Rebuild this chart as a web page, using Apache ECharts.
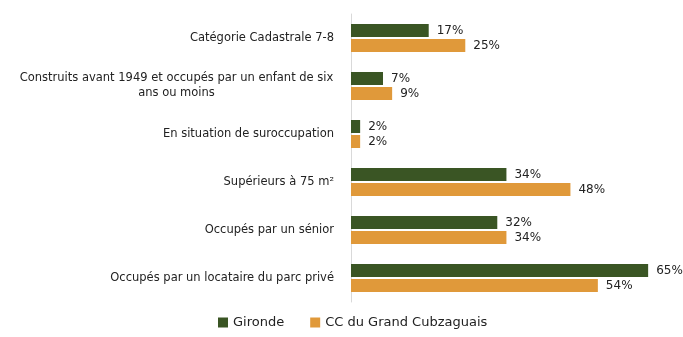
<!DOCTYPE html>
<html>
<head>
<meta charset="utf-8">
<script src="https://cdn.jsdelivr.net/npm/echarts@6/dist/echarts.min.js"></script>
<style>
  html, body { margin: 0; padding: 0; background: #fff; }
  #chart { width: 683px; height: 337px; }
</style>
</head>
<body>
<div id="chart"></div>
<script>
// Categories, top to bottom
const categories = [
  "Catégorie Cadastrale 7-8",
  "Construits avant 1949 et occupés par un enfant de six\nans ou moins",
  "En situation de suroccupation",
  "Supérieurs à 75 m²",
  "Occupés par un sénior",
  "Occupés par un locataire du parc privé"
];
const seriesNames = ["Gironde", "CC du Grand Cubzaguais"];
const gironde = [17, 7, 2, 34, 32, 65];
const cubzaguais = [25, 9, 2, 48, 34, 54];

const FONT = "'DejaVu Sans', sans-serif";

const chart = echarts.init(document.getElementById('chart'));
const labelStyle = {
  show: true,
  position: 'right',
  distance: 8,
  color: '#222',
  fontFamily: FONT,
  fontSize: 12,
  formatter: p => p.value + '%'
};

// Wrapped category names: lines centred on each other, block right-aligned
const wrapLabel = v => v.indexOf('\n') < 0 ? v
  : v.split('\n').map(l => '{c|' + l + '}').join('\n');

chart.setOption({
  animation: false,
  grid: { left: 351, right: 12, top: 14, bottom: 35, containLabel: false },
  legend: {
    bottom: 3,
    left: 213,
    itemWidth: 10,
    itemHeight: 10,
    itemGap: 26,
    icon: 'rect',
    textStyle: { fontFamily: FONT, fontSize: 13, color: '#222' },
    data: seriesNames
  },
  xAxis: {
    type: 'value',
    min: 0,
    max: 70,
    show: false
  },
  yAxis: {
    type: 'category',
    data: categories,
    inverse: true,
    axisLine: { show: true, lineStyle: { color: '#d9d9d9', width: 1 } },
    axisTick: { show: false },
    axisLabel: {
      margin: 17,
      color: '#222',
      fontFamily: FONT,
      fontSize: 11.5,
      lineHeight: 15,
      align: 'right',
      formatter: wrapLabel,
      rich: {
        c: {
          width: 315,
          align: 'center',
          color: '#222',
          fontFamily: FONT,
          fontSize: 11.5,
          lineHeight: 15
        }
      }
    }
  },
  series: [
    {
      name: seriesNames[0],
      type: 'bar',
      data: gironde,
      barWidth: 13,
      barGap: '15%',
      itemStyle: { color: '#3A5524' },
      label: labelStyle
    },
    {
      name: seriesNames[1],
      type: 'bar',
      data: cubzaguais,
      barWidth: 13,
      barGap: '15%',
      itemStyle: { color: '#E0993A' },
      label: labelStyle
    }
  ]
});
</script>
</body>
</html>
